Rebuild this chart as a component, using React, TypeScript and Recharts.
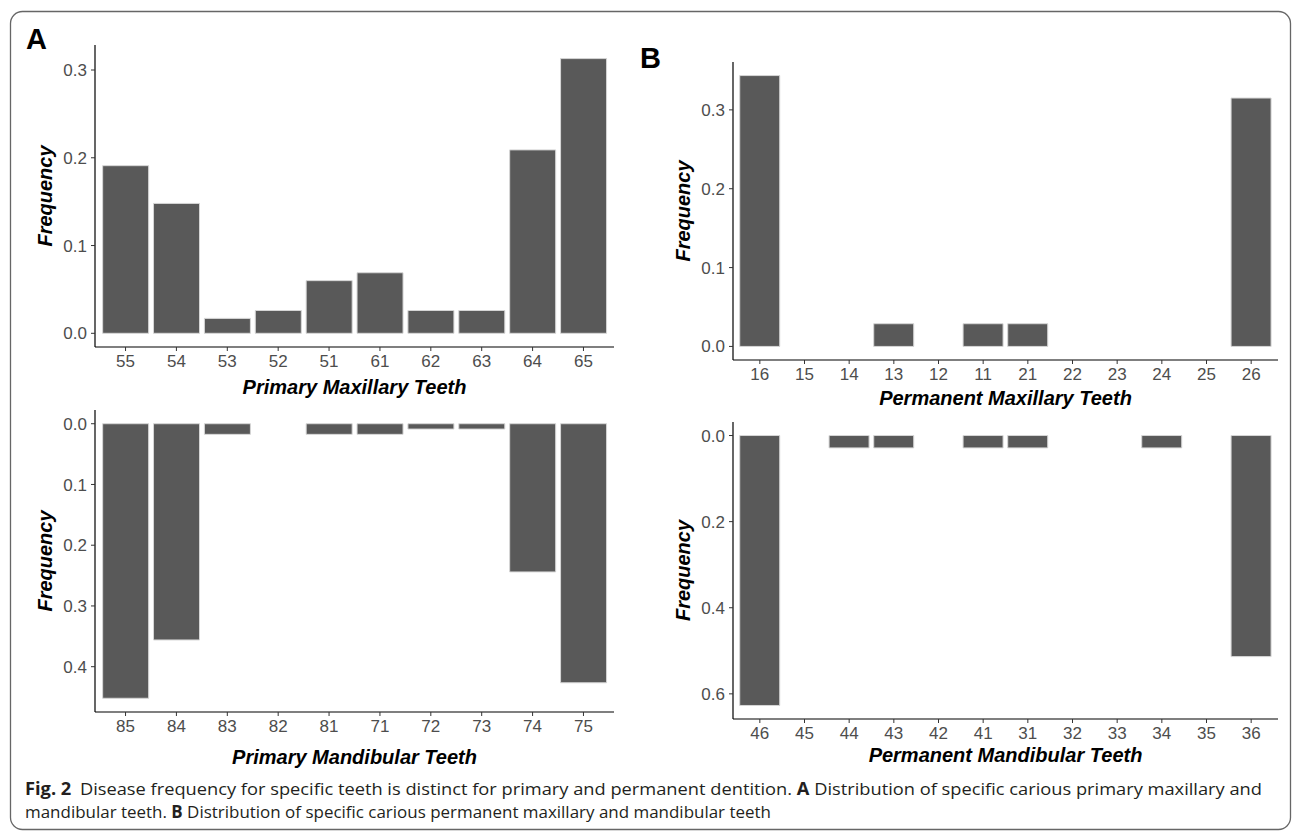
import { BarChart, Bar, XAxis, YAxis, Label } from "recharts";

const primaryMaxTeeth = ["55", "54", "53", "52", "51", "61", "62", "63", "64", "65"];
const primaryMaxFreq = [0.191, 0.148, 0.017, 0.026, 0.06, 0.069, 0.026, 0.026, 0.209, 0.313];

const primaryMandTeeth = ["85", "84", "83", "82", "81", "71", "72", "73", "74", "75"];
const primaryMandFreq = [0.452, 0.356, 0.0175, 0, 0.0175, 0.0175, 0.0088, 0.0088, 0.244, 0.4265];

const permMaxTeeth = ["16", "15", "14", "13", "12", "11", "21", "22", "23", "24", "25", "26"];
const permMaxFreq = [0.3435, 0, 0, 0.0288, 0, 0.0288, 0.0288, 0, 0, 0, 0, 0.315];

const permMandTeeth = ["46", "45", "44", "43", "42", "41", "31", "32", "33", "34", "35", "36"];
const permMandFreq = [0.627, 0, 0.0287, 0.0287, 0, 0.0287, 0.0287, 0, 0, 0.0287, 0, 0.5135];

const tickStyle = { fontSize: 17, fill: "#4d4d4d", fontFamily: "'Liberation Sans', Arial, sans-serif" };
const titleStyle = {
  fontSize: 20,
  fontWeight: "bold",
  fontStyle: "italic",
  fill: "#000",
  fontFamily: "'Liberation Sans', Arial, sans-serif",
};

interface PanelProps {
  teeth: string[];
  freq: number[];
  domain: [number, number];
  ticks: number[];
  reversed?: boolean;
  title: string;
  left: number;
  top: number;
  width: number;
  height: number;
  margin: { top: number; right: number; bottom: number; left: number };
  xAxisHeight: number;
  titleOffset: number;
  pad: number;
}

const Panel = (p: PanelProps) => {
  const data = p.teeth.map((t, i) => ({ tooth: t, freq: p.freq[i] }));
  return (
    <div style={{ position: "absolute", left: p.left, top: p.top }}>
      <BarChart width={p.width} height={p.height} data={data} margin={p.margin} barCategoryGap="5%">
        <XAxis
          dataKey="tooth"
          interval={0}
          height={p.xAxisHeight}
          padding={{ left: p.pad, right: p.pad }}
          tick={tickStyle}
          tickSize={4}
          tickMargin={4}
          axisLine={{ stroke: "#000", strokeWidth: 1.2 }}
          tickLine={{ stroke: "#333" }}
        >
          <Label value={p.title} position="insideBottom" offset={p.titleOffset} style={titleStyle} />
        </XAxis>
        <YAxis
          width={60}
          type="number"
          domain={p.domain}
          ticks={p.ticks}
          allowDataOverflow
          reversed={p.reversed}
          tickFormatter={(v: number) => v.toFixed(1)}
          tick={tickStyle}
          tickSize={4}
          tickMargin={4}
          axisLine={{ stroke: "#000", strokeWidth: 1.2 }}
          tickLine={{ stroke: "#333" }}
        >
          <Label
            value="Frequency"
            angle={-90}
            position="insideLeft"
            offset={10}
            style={{ ...titleStyle, textAnchor: "middle" }}
          />
        </YAxis>
        <Bar dataKey="freq" fill="#595959" stroke="#d6d6d6" strokeWidth={1} isAnimationActive={false} />
      </BarChart>
    </div>
  );
};

export default function App() {
  return (
    <div style={{ position: "absolute", left: 0, top: 0, width: 1292, height: 831, background: "#fff" }}>
      <Panel
        teeth={primaryMaxTeeth}
        freq={primaryMaxFreq}
        domain={[-0.0156, 0.3285]}
        ticks={[0, 0.1, 0.2, 0.3]}
        title="Primary Maxillary Teeth"
        left={0}
        top={0}
        width={640}
        height={410}
        margin={{ top: 45, right: 26, bottom: 8, left: 35 }}
        xAxisHeight={55}
        titleOffset={8}
        pad={5.1}
      />
      <Panel
        teeth={primaryMandTeeth}
        freq={primaryMandFreq}
        domain={[-0.0226, 0.4746]}
        ticks={[0, 0.1, 0.2, 0.3, 0.4]}
        reversed
        title="Primary Mandibular Teeth"
        left={0}
        top={400}
        width={640}
        height={380}
        margin={{ top: 10, right: 26, bottom: 8, left: 35 }}
        xAxisHeight={60}
        titleOffset={8}
        pad={5.1}
      />
      <Panel
        teeth={permMaxTeeth}
        freq={permMaxFreq}
        domain={[-0.0172, 0.3607]}
        ticks={[0, 0.1, 0.2, 0.3]}
        title="Permanent Maxillary Teeth"
        left={640}
        top={0}
        width={652}
        height={420}
        margin={{ top: 62, right: 14, bottom: 8, left: 33 }}
        xAxisHeight={52}
        titleOffset={7}
        pad={4.5}
      />
      <Panel
        teeth={permMandTeeth}
        freq={permMandFreq}
        domain={[-0.0314, 0.6584]}
        ticks={[0, 0.2, 0.4, 0.6]}
        reversed
        title="Permanent Mandibular Teeth"
        left={640}
        top={400}
        width={652}
        height={380}
        margin={{ top: 22, right: 14, bottom: 8, left: 33 }}
        xAxisHeight={53}
        titleOffset={10}
        pad={4.5}
      />
      <svg
        width={1292}
        height={831}
        style={{ position: "absolute", left: 0, top: 0, pointerEvents: "none" }}
      >
        <rect x={10.5} y={11.5} width={1280} height={818} rx={12} fill="none" stroke="#666" strokeWidth={1.3} />
        <text x={26} y={49} fontSize={29} fontWeight="bold" fontFamily="'Liberation Sans', Arial, sans-serif">
          A
        </text>
        <text x={640} y={68} fontSize={29} fontWeight="bold" fontFamily="'Liberation Sans', Arial, sans-serif">
          B
        </text>
        <text
          x={25}
          y={795}
          fontSize={17}
          fill="#231f20"
          fontFamily="'Open Sans', sans-serif"
          textLength={1237}
          lengthAdjust="spacingAndGlyphs"
        >
          <tspan fontWeight="bold">Fig. 2</tspan>
          <tspan dx={8}>
            Disease frequency for specific teeth is distinct for primary and permanent dentition.{" "}
          </tspan>
          <tspan fontWeight="bold">A</tspan>
          <tspan> Distribution of specific carious primary maxillary and</tspan>
        </text>
        <text
          x={25}
          y={818}
          fontSize={17}
          fill="#231f20"
          fontFamily="'Open Sans', sans-serif"
          textLength={746}
          lengthAdjust="spacingAndGlyphs"
        >
          <tspan>mandibular teeth. </tspan>
          <tspan fontWeight="bold">B</tspan>
          <tspan> Distribution of specific carious permanent maxillary and mandibular teeth</tspan>
        </text>
      </svg>
    </div>
  );
}
